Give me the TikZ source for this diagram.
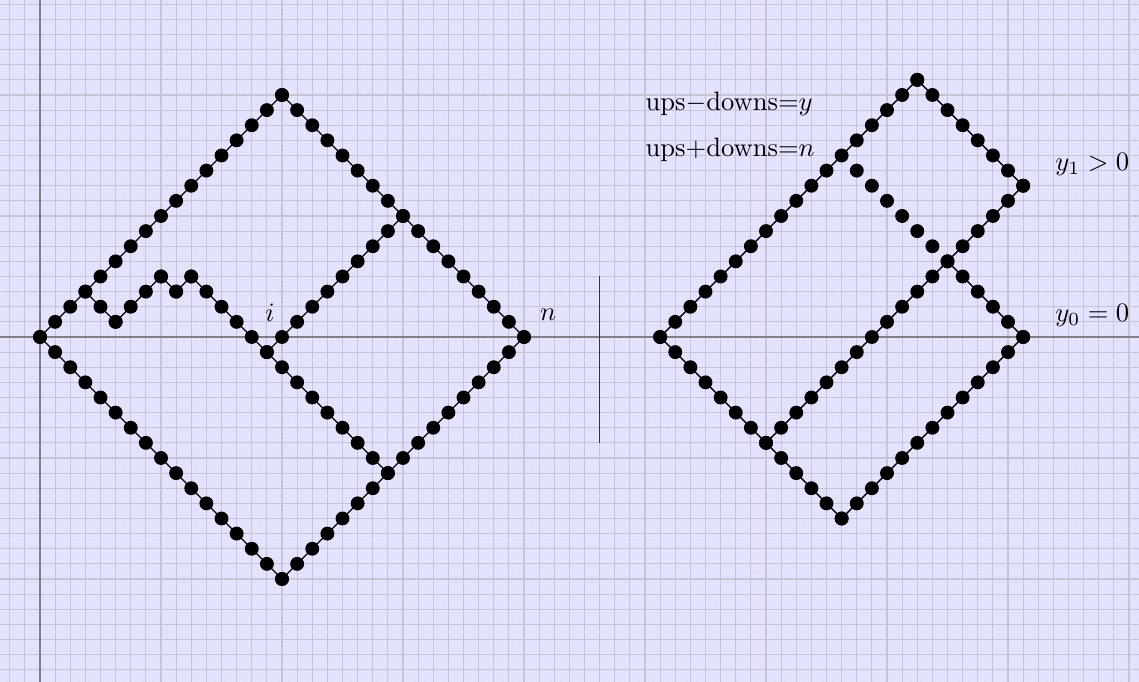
\documentclass[tikz,border=0pt]{standalone}
\usepackage{amsmath}
\usepackage{tikz}
\usetikzlibrary{calc}
\definecolor{paper}{RGB}{229,229,255}
\definecolor{gridline}{RGB}{198,198,210}
\definecolor{fineline}{RGB}{225,225,253}
\definecolor{axisline}{RGB}{128,128,128}
% dots along a diagonal run: start x, start y, number of steps, slope (+1 or -1)
\newcommand{\dotrun}[4]{%
  \foreach \k in {0,...,#3}
    \fill[lattice dot] ({#1+\k},{#2+#4*\k}) circle (0.46);
}
\tikzset{
  fine grid/.style={draw=fineline, line width=0.1pt, step=0.04cm},
  major grid/.style={draw=gridline, line width=0.4pt, step=0.2cm},
  axis/.style={draw=axisline, line width=0.45pt},
  walk/.style={draw=black, line width=0.5pt},
  lattice dot/.style={fill=black},
  divider/.style={draw=black!80, line width=0.6pt},
  tag/.style={inner sep=0pt},
}

\begin{document}
\begin{tikzpicture}[x=0.2cm, y=0.2cm, font=\normalsize]

  % Paper and grid
  \useasboundingbox (-2.645,-22.81) rectangle (72.66,22.28);
  \fill[paper] (-2.645,-22.81) rectangle (72.66,22.28);
  \draw[fine grid] (-2.645,-22.81) grid (72.66,22.28);
  \draw[major grid] (-2.645,-22.81) grid (72.66,22.28);
  \draw[axis] (-2.645,0) -- (72.66,0);
  \draw[axis] (0,-22.81) -- (0,22.28);

  % Left picture: corners
  \coordinate (o)    at (0,0);
  \coordinate (ltop) at (16,16);
  \coordinate (lend) at (32,0);
  \coordinate (lbot) at (16,-16);
  \coordinate (p1)   at (3,3);
  \coordinate (p2)   at (5,1);
  \coordinate (p3)   at (8,4);
  \coordinate (p4)   at (9,3);
  \coordinate (p5)   at (10,4);
  \coordinate (pr)   at (15,-1);
  \coordinate (pa)   at (23,-9);
  \coordinate (pb)   at (24,8);

  \draw[walk] (o) -- (ltop) -- (lend) -- (lbot) -- cycle;
  \draw[walk] (p1) -- (p2) -- (p3) -- (p4) -- (p5) -- (pr) -- (pa);
  \draw[walk] (pr) -- (pb);

  \dotrun{0}{0}{16}{1}
  \dotrun{16}{16}{16}{-1}
  \dotrun{0}{0}{16}{-1}
  \dotrun{16}{-16}{16}{1}
  \dotrun{3}{3}{2}{-1}
  \dotrun{5}{1}{3}{1}
  \dotrun{8}{4}{1}{-1}
  \dotrun{9}{3}{1}{1}
  \dotrun{10}{4}{13}{-1}
  \dotrun{15}{-1}{9}{1}

  \node[tag] (ilab) at (15.2,1.6) {$i$};
  \node[tag] (nlab) at (33.6,1.45) {$n$};

  % Divider
  \coordinate (divT) at (37,4);
  \coordinate (divB) at (37,-7);
  \draw[divider] (divT) -- (divB);

  % Right picture: corners
  \coordinate (ro)    at (41,0);
  \coordinate (rtop)  at (58,17);
  \coordinate (rhi)   at (65,10);
  \coordinate (rcross) at (48,-7);
  \coordinate (rbot)  at (53,-12);
  \coordinate (rlo)   at (65,0);
  \coordinate (rx)    at (60,5);

  \draw[walk] (ro) -- (rtop) -- (rhi) -- (rcross);
  \draw[walk] (ro) -- (rbot) -- (rlo) -- (rx);

  \dotrun{41}{0}{17}{1}
  \dotrun{58}{17}{7}{-1}
  \dotrun{48}{-7}{17}{1}
  \dotrun{41}{0}{12}{-1}
  \dotrun{53}{-12}{12}{1}
  \dotrun{54}{11}{11}{-1}

  \node[tag, anchor=west] (diff) at (40,15.4) {ups{$-$}downs{$=$}$y$};
  \node[tag, anchor=west] (sum)  at (40,12.4) {ups{$+$}downs{$=$}$n$};
  \node[tag, anchor=west] (yone)  at (67.1,11.4) {$y_1>0$};
  \node[tag, anchor=west] (yzero) at (67.1,1.4) {$y_0=0$};

\end{tikzpicture}
\end{document}
